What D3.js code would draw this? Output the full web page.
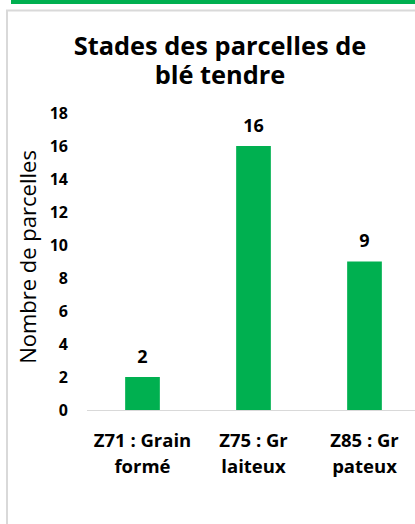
<!DOCTYPE html>
<html><head><meta charset="utf-8">
<script src="https://cdn.jsdelivr.net/npm/d3@7"></script>
<style>html,body{margin:0;padding:0;background:#fff;}svg{display:block;}</style>
</head><body>
<script>
const categories = [["Z71 : Grain","formé"],["Z75 : Gr","laiteux"],["Z85 : Gr","pateux"]];
const values = [2, 16, 9];
const yTicks = [0,2,4,6,8,10,12,14,16,18];
const titleLines = ["Stades des parcelles de","blé tendre"];
const yTitle = "Nombre de parcelles";

const W = 415, H = 524;
const font = "'Open Sans', sans-serif";
const green = "#00B050";
const svg = d3.select("body").append("svg").attr("width", W).attr("height", H);

svg.append("rect").attr("x", 11).attr("y", 0).attr("width", W - 11).attr("height", 4).attr("fill", green);
svg.append("rect").attr("x", 7).attr("y", 10.5).attr("width", W + 20).attr("height", H + 20)
  .attr("fill", "#fff").attr("stroke", "#d9d9d9").attr("stroke-width", 2);

const x = d3.scaleBand().domain(d3.range(values.length)).range([87, 420]).paddingInner(0.6875).paddingOuter(0.34375);
const y = d3.scaleLinear().domain([0, 18]).range([410, 113]);

svg.append("text").attr("text-anchor", "middle").attr("font-family", font).attr("font-weight", 700)
  .attr("font-size", 25.4).attr("fill", "#000")
  .selectAll("tspan").data(titleLines).join("tspan")
  .attr("x", 220).attr("y", (d, i) => 55 + i * 28.5).text(d => d);

const yAxis = svg.append("g").attr("transform", "translate(68,0)")
  .call(d3.axisLeft(y).tickValues(yTicks).tickSize(0).tickPadding(0));
yAxis.select(".domain").remove();
yAxis.selectAll("text").attr("font-family", font).attr("font-weight", 700).attr("font-size", 16).attr("fill", "#000");

svg.append("text").attr("transform", "translate(36,257) rotate(-90)")
  .attr("text-anchor", "middle").attr("font-family", font).attr("font-size", 22).attr("fill", "#000").text(yTitle);

svg.append("line").attr("x1", 87).attr("x2", 420).attr("y1", 410.5).attr("y2", 410.5)
  .attr("stroke", "#d9d9d9").attr("stroke-width", 1);

svg.append("g").selectAll("rect").data(values).join("rect")
  .attr("x", (d, i) => x(i)).attr("width", x.bandwidth())
  .attr("y", d => y(d)).attr("height", d => y(0) - y(d)).attr("fill", green);

svg.append("g").selectAll("text").data(values).join("text")
  .attr("x", (d, i) => x(i) + x.bandwidth() / 2).attr("y", d => y(d) - 14.5)
  .attr("text-anchor", "middle").attr("font-family", font).attr("font-weight", 700)
  .attr("font-size", 18).attr("fill", "#000").text(d => d);

const xl = svg.append("g").selectAll("text").data(categories).join("text")
  .attr("text-anchor", "middle").attr("font-family", font).attr("font-weight", 700)
  .attr("font-size", 18.5).attr("fill", "#000");
xl.selectAll("tspan").data((d, i) => d.map(t => ({t, i}))).join("tspan")
  .attr("x", d => x(d.i) + x.bandwidth() / 2).attr("y", (d, j) => 447 + j * 26).text(d => d.t);
</script>
</body></html>
